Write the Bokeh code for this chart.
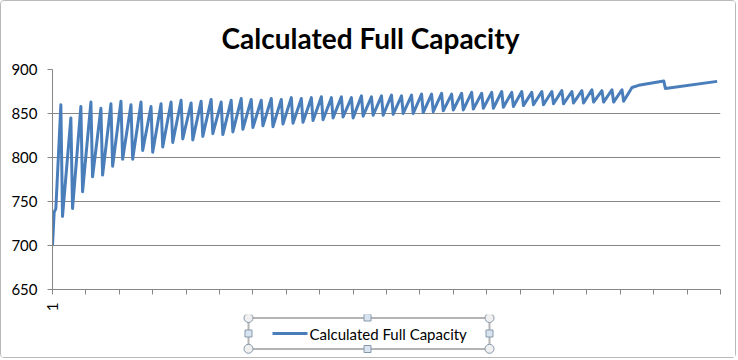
import math
from bokeh.plotting import figure
from bokeh.models import Range1d, FixedTicker
from bokeh.layouts import column
from bokeh.core.properties import value
from bokeh.embed import file_html
from bokeh.resources import INLINE

# ---------------- data ----------------
series_name = "Calculated Full Capacity"
chart_title = "Calculated Full Capacity"

# first ramp
start_x = [1, 2, 3, 4, 5]
start_y = [700, 738, 742, 781, 820]

# sawtooth: peak sample index / value, then trough right after
peak_x = [6, 12, 18, 24, 30, 36, 42, 48, 54, 60, 66, 72, 78, 84, 90, 96, 102, 108, 114,
          120, 126, 132, 138, 144, 150, 156, 162,
          168, 174, 180, 186, 192, 198, 204, 210, 216, 222,
          228, 234, 240, 246, 252, 258, 264, 270, 276, 282,
          288, 294, 300, 306, 312, 318, 324, 330, 336, 342]
peak_y = [860, 845, 858, 863, 856, 861, 864, 860, 863, 858, 861, 863, 865, 862, 864, 866, 863, 865, 867,
          866, 865, 867, 866, 868, 867, 868, 869,
          868, 869, 868, 870, 869, 870, 871, 870, 871, 872,
          872, 873, 872, 873, 874, 873, 874, 875, 874, 875,
          874, 875, 875, 876, 875, 876, 877, 876, 877, 877]
trough_x = [7, 13, 19, 25, 31, 37, 43, 49, 55, 61, 67, 73, 79, 85, 91, 97, 103, 109, 115,
            121, 127, 133, 139, 145, 151, 157, 163,
            169, 175, 181, 187, 193, 199, 205, 211, 217, 223,
            229, 235, 241, 247, 253, 259, 265, 271, 277, 283,
            289, 295, 301, 307, 313, 319, 325, 331, 337, 343]
trough_y = [733, 742, 761, 778, 780, 790, 798, 798, 808, 806, 812, 817, 821, 820, 824, 827, 826, 829, 832,
            834, 836, 835, 838, 839, 840, 842, 843,
            845, 846, 845, 847, 848, 848, 849, 850, 850, 851,
            852, 853, 854, 854, 855, 856, 856, 857, 858, 859,
            860, 860, 861, 861, 862, 862, 863, 863, 863, 864]

# smooth tail
tail_x = [348, 352, 367, 368, 399]
tail_y = [879.5, 882, 887, 878.5, 886.5]

y_ticks = [650, 700, 750, 800, 850, 900]
x_ticks = [1, 21, 41, 61, 81, 101, 121, 141, 161, 181, 201, 221, 241, 261, 281, 301, 321, 341, 361, 381, 401]
x_tick_labels = ["1"] + [""] * 20

# build the series
cap_x = list(start_x)
cap_y = list(start_y)
for px, py, tx, ty in zip(peak_x, peak_y, trough_x, trough_y):
    cap_x += [px, tx]
    cap_y += [py, ty]
cap_x += tail_x
cap_y += tail_y

LINE = "#4A7EBB"
GRID = "#868686"
FONT = "Lato"

p = figure(width=734, height=313, output_backend="svg", toolbar_location=None,
           x_range=Range1d(1, 401), y_range=Range1d(650, 900),
           min_border_left=51, min_border_right=15, min_border_top=68, min_border_bottom=25)
p.title.text = chart_title
p.title.align = "left"
p.title.offset = 169
p.title.text_font = FONT
p.title.text_font_size = "28px"
p.title.text_font_style = "bold"
p.title.text_color = "#000000"
p.title.standoff = 30
p.outline_line_color = None
p.background_fill_color = "white"
p.border_fill_color = "white"

p.xgrid.visible = False
p.ygrid.grid_line_color = GRID
p.ygrid.grid_line_width = 1

p.yaxis.ticker = FixedTicker(ticks=y_ticks)
p.yaxis.axis_line_color = GRID
p.yaxis.major_tick_line_color = GRID
p.yaxis.major_tick_out = 5
p.yaxis.major_tick_in = 0
p.yaxis.minor_tick_line_color = None
p.yaxis.major_label_text_font = FONT
p.yaxis.major_label_text_font_size = "15px"
p.yaxis.major_label_text_color = "#000000"
p.yaxis.major_label_standoff = 10

p.xaxis.ticker = FixedTicker(ticks=x_ticks)
p.xaxis.major_label_overrides = {t: lab for t, lab in zip(x_ticks, x_tick_labels)}
p.xaxis.axis_line_color = GRID
p.xaxis.major_tick_line_color = GRID
p.xaxis.major_tick_out = 5
p.xaxis.major_tick_in = 0
p.xaxis.minor_tick_line_color = None
p.xaxis.major_label_orientation = math.pi / 2
p.xaxis.major_label_text_font = FONT
p.xaxis.major_label_text_font_size = "15px"
p.xaxis.major_label_text_color = "#000000"
p.xaxis.major_label_standoff = 8

p.line(cap_x, cap_y, line_color=LINE, line_width=3, line_join="round")

# ---------------- legend strip ----------------
# (the column aligns this frame with the chart frame: page x 52..720)
leg = figure(width=734, height=43, output_backend="svg", toolbar_location=None,
             x_range=Range1d(52, 720), y_range=Range1d(357, 314),
             x_axis_type=None, y_axis_type=None,
             min_border_left=0, min_border_right=0, min_border_top=0, min_border_bottom=0)
leg.outline_line_color = None
leg.grid.visible = False
leg.quad(left=[248], right=[489], top=[317.5], bottom=[348.5], fill_color=None,
         line_color="#b4b4b4", line_width=2)
leg.line([272, 307], [333, 333], line_color=LINE, line_width=3)
leg.text(x=[309], y=[333], text=[series_name], text_baseline="middle", text_align="left",
         text_font=value(FONT), text_font_size="15px", text_color="#000000")
leg.scatter(x=[248, 489, 248, 489], y=[317.5, 317.5, 348.3, 348.3], marker="circle", size=9,
            fill_color="#f0f0f0", line_color="#8797aa", line_width=1)
leg.scatter(x=[367, 367, 248, 489], y=[317, 348.5, 333, 333], marker="square", size=7,
            fill_color="#d9e4f1", line_color="#8797aa", line_width=1)

layout = column(p, leg, spacing=0,
                styles={"border": "1px solid #b9b9b9", "border-radius": "4px"})

open("out.html", "w").write(file_html(layout, INLINE))
